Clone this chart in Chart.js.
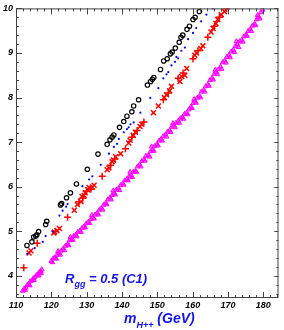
<!DOCTYPE html>
<html>
<head>
<meta charset="utf-8">
<script src="https://cdn.jsdelivr.net/npm/chart.js@4/dist/chart.umd.min.js"></script>
<style>
  html, body { margin: 0; padding: 0; background: #fff; }
  #wrap { width: 284px; height: 330px; }
</style>
</head>
<body>
<div id="wrap"><canvas id="rgg"></canvas></div>
<script>
// tick labels
const xTicks = [110, 120, 130, 140, 150, 160, 170, 180];
const yTicks = [4, 5, 6, 7, 8, 9, 10];

// black open circles
const circlePts = [
  [113.1,4.68],[114.5,4.76],[115.0,4.87],[115.6,4.89],[115.9,4.92],[116.4,4.99],
  [118.4,5.15],[118.7,5.22],[122.6,5.59],[122.9,5.62],[124.3,5.75],[125.4,5.86],
  [127.1,6.06],[130.2,6.39],[133.2,6.73],[135.8,6.95],[136.6,7.05],[137.2,7.11],
  [137.7,7.16],[139.3,7.33],[140.5,7.46],[141.4,7.58],[142.8,7.68],[143.3,7.81],
  [144.7,7.95],[147.2,8.28],[148.1,8.36],[148.6,8.41],[149.0,8.45],[150.9,8.63],
  [151.8,8.82],[152.8,8.87],[153.7,8.98],[154.2,9.02],[155.1,9.11],[156.2,9.24],
  [156.7,9.35],[157.2,9.40],[158.4,9.53],[159.1,9.60],[160.1,9.75],[160.7,9.80],
  [161.9,9.93]
];

// blue dots
const dotPts = [
  [113.2,4.49],[115.3,4.62],[117.6,4.76],[118.4,4.89],[120.5,4.99],[122.3,5.35],
  [123.2,5.46],[124.2,5.55],[124.6,5.61],[128.8,6.01],[130.7,6.16],[131.6,6.23],
  [134.0,6.49],[136.3,6.74],[137.7,6.89],[138.6,6.96],[139.1,7.07],[140.5,7.22],
  [141.4,7.29],[141.9,7.33],[142.4,7.40],[143.3,7.44],[145.2,7.66],[148.0,7.99],
  [150.3,8.21],[151.7,8.43],[152.6,8.52],[153.1,8.57],[154.0,8.72],[155.0,8.80],
  [155.4,8.91],[155.9,8.88],[156.8,9.05],[157.8,9.12],[158.7,9.31],[160.1,9.45],
  [161.0,9.56],[162.4,9.71],[163.9,9.86],[165.7,10.0]
];

// red crosses
const crossPts = [
  [112.2,4.18],[113.7,4.51],[114.2,4.56],[116.0,4.73],[120.7,4.96],[120.9,4.98],
  [121.2,5.00],[121.6,5.01],[122.3,5.06],[124.6,5.31],[126.5,5.47],[127.4,5.60],
  [127.8,5.66],[128.4,5.66],[128.7,5.78],[128.9,5.74],[129.3,5.80],[129.6,5.86],
  [130.0,5.90],[130.3,5.93],[130.7,5.98],[131.2,5.94],[131.6,5.99],[132.1,6.03],
  [134.4,6.23],[135.8,6.38],[136.3,6.42],[136.8,6.48],[137.2,6.56],[137.6,6.60],
  [138.0,6.62],[138.2,6.67],[139.6,6.74],[141.0,6.85],[141.9,6.98],[142.3,7.04],
  [142.8,7.11],[143.2,7.15],[143.8,7.22],[144.3,7.26],[145.1,7.35],[145.6,7.40],
  [146.2,7.45],[148.9,7.66],[150.3,7.81],[151.7,7.95],[152.0,8.00],[152.6,8.06],
  [153.1,8.10],[153.5,8.15],[154.0,8.25],[155.9,8.43],[156.4,8.36],[156.9,8.47],
  [157.3,8.55],[157.8,8.50],[158.3,8.65],[160.1,8.87],[160.6,8.95],[161.1,9.00],
  [161.5,9.05],[162.3,9.10],[162.9,9.16],[164.3,9.35],[165.2,9.47],[165.8,9.55],
  [166.2,9.60],[166.6,9.66],[167.1,9.75],[167.6,9.80],[168.1,9.86],[169.0,9.93],
  [169.6,9.99]
];

// magenta triangles
const triPts = [
  [111.9,3.66],[112.3,3.71],[112.8,3.73],[113.2,3.79],[113.6,3.80],[114.0,3.87],
  [114.5,3.89],[114.9,3.94],[115.3,3.96],[115.8,4.01],[116.2,4.03],[116.6,4.08],
  [117.0,4.10],[117.3,4.14],
  [120.0,4.33],[120.5,4.39],[121.1,4.41],[121.6,4.47],[122.2,4.51],[122.8,4.56],
  [123.4,4.61],[124.0,4.67],[124.6,4.71],[125.1,4.79],[125.7,4.81],[126.3,4.89],
  [126.9,4.92],[127.5,4.98],[128.1,5.01],[128.7,5.07],[129.3,5.11],[129.9,5.17],
  [130.5,5.21],[131.2,5.27],[131.8,5.31],[132.4,5.37],[133.0,5.41],[133.6,5.48],
  [134.2,5.52],[134.8,5.59],[135.4,5.63],[136.0,5.71],[136.6,5.75],[137.2,5.81],
  [137.8,5.85],[138.4,5.93],[139.0,5.96],[139.6,6.03],[140.2,6.07],[140.8,6.14],
  [141.4,6.17],[142.0,6.23],[142.6,6.25],[143.2,6.33],[143.8,6.35],[144.4,6.45],
  [145.0,6.49],[145.6,6.57],[146.2,6.61],[146.8,6.69],[147.5,6.71],[148.1,6.79],
  [148.7,6.83],[149.3,6.91],[149.9,6.95],[150.5,7.03],[151.1,7.07],[151.7,7.13],
  [152.3,7.17],[152.9,7.23],[153.5,7.26],[154.1,7.34],[154.7,7.37],[155.3,7.43],
  [155.9,7.47],[156.5,7.53],[157.1,7.56],[157.7,7.63],[158.3,7.65],[158.9,7.73],
  [159.5,7.79],[160.1,7.87],[160.7,7.91],[161.3,7.99],[161.9,8.03],[162.5,8.13],
  [163.1,8.17],[163.7,8.25],[164.3,8.29],[164.9,8.39],[165.5,8.44],[166.1,8.53],
  [166.7,8.57],[167.3,8.63],[167.9,8.69],[168.5,8.79],[169.1,8.83],[169.7,8.91],
  [170.3,8.95],[170.9,9.03],[171.5,9.07],[172.1,9.15],[172.7,9.19],[173.3,9.26],
  [173.9,9.29],[174.5,9.37],[175.1,9.41],[175.7,9.49],[176.3,9.53],[176.9,9.61],
  [177.5,9.65],[178.1,9.75],[178.7,9.81],[179.3,9.91],[179.8,9.97],
  [112.6,3.68],[113.9,3.78],[115.1,3.90],[116.4,4.00],[117.1,4.06],
  [120.3,4.30],[121.4,4.38],[122.5,4.47],[123.7,4.57],[124.9,4.68],[126.1,4.80],
  [127.2,4.88],[128.4,4.98],[129.6,5.08],[130.8,5.18],[132.1,5.28],[133.3,5.37],
  [134.5,5.48],[135.7,5.60],[136.9,5.71],[138.1,5.82],[139.3,5.92],[140.5,6.04],
  [141.7,6.14],[142.9,6.21],[144.1,6.33],[145.3,6.45],[146.5,6.58],[147.8,6.67],
  [149.0,6.80],[150.2,6.92],[151.4,7.03],[152.6,7.12],[153.8,7.22],[155.0,7.33],
  [156.2,7.43],[157.4,7.52],[158.6,7.62],[159.8,7.76],[161.0,7.88],[162.2,8.00],
  [163.4,8.13],[164.6,8.26],[165.8,8.40],[167.0,8.52],[168.2,8.64],[169.4,8.78],
  [170.6,8.90],[171.8,9.02],[173.0,9.13],[174.2,9.25],[175.4,9.38],[176.6,9.49],
  [177.8,9.62],[179.0,9.77],
  [121.9,4.55],[125.4,4.87],[131.5,5.36],[137.5,5.91],[142.3,6.33],[148.4,6.90],
  [154.4,7.42],[160.4,7.96],[166.4,8.62],[172.4,9.26],[178.4,9.85]
];

const toXY = arr => arr.map(p => ({ x: p[0], y: p[1] }));

const tickFont = { family: '"Liberation Sans", Arial, sans-serif', size: 9, style: 'italic', weight: 'bold' };
const blue = '#1414e6';

// ticks inside the frame, ROOT style, plus the text labels
const frameTicks = {
  id: 'frameTicks',
  afterDatasetsDraw(chart) {
    const { ctx, chartArea: a, scales: { x, y } } = chart;
    ctx.save();
    ctx.strokeStyle = '#444';
    ctx.lineWidth = 1;
    ctx.strokeRect(a.left + 0.5, a.top + 0.5, a.right - a.left - 1, a.bottom - a.top - 1);
    ctx.beginPath();
    for (let v = 110; v <= 184; v += 2) {
      const px = Math.round(x.getPixelForValue(v)) + 0.5;
      const len = v % 10 === 0 ? 6 : 3;
      ctx.moveTo(px, a.bottom); ctx.lineTo(px, a.bottom - len);
      ctx.moveTo(px, a.top); ctx.lineTo(px, a.top + len);
    }
    for (let v = 36; v <= 100; v += 2) {
      const py = Math.round(y.getPixelForValue(v / 10)) + 0.5;
      const len = v % 10 === 0 ? 6 : 3;
      ctx.moveTo(a.left, py); ctx.lineTo(a.left + len, py);
      ctx.moveTo(a.right, py); ctx.lineTo(a.right - len * 0.7, py);
    }
    ctx.stroke();

    // R_gg label
    ctx.fillStyle = blue;
    ctx.textBaseline = 'alphabetic';
    const big = 'italic bold 13px "Liberation Sans", Arial, sans-serif';
    const small = 'italic bold 9px "Liberation Sans", Arial, sans-serif';
    let cx = 65;
    ctx.font = big; ctx.fillText('R', cx, 283); cx += ctx.measureText('R').width;
    ctx.font = small; ctx.fillText('gg', cx, 287); cx += ctx.measureText('gg').width;
    ctx.font = big; ctx.fillText(' = 0.5 (C1)', cx, 283);

    // x title
    const bigX = 'italic bold 14px "Liberation Sans", Arial, sans-serif';
    cx = 124;
    ctx.font = bigX; ctx.fillText('m', cx, 323); cx += ctx.measureText('m').width;
    ctx.font = small; ctx.fillText('H++', cx, 328); cx += ctx.measureText('H++').width;
    ctx.font = bigX; ctx.fillText(' (GeV)', cx, 323);
    ctx.restore();
  }
};

const myChart = new Chart(document.getElementById('rgg'), {
  type: 'scatter',
  data: {
    datasets: [{
      label: 'circles',
      data: toXY(circlePts),
      pointStyle: 'circle',
      pointRadius: 2.2,
      borderWidth: 1.2,
      borderColor: '#000',
      backgroundColor: 'rgba(0,0,0,0)'
    }, {
      label: 'dots',
      data: toXY(dotPts),
      pointStyle: 'circle',
      pointRadius: 1.1,
      borderWidth: 0,
      borderColor: '#0000ff',
      backgroundColor: '#0000ff'
    }, {
      label: 'crosses',
      data: toXY(crossPts),
      pointStyle: crossPts.map((p, i) => i % 3 === 0 ? 'cross' : 'crossRot'),
      pointRadius: 3.5,
      borderWidth: 1.5,
      borderColor: '#ff0000',
      backgroundColor: '#ff0000'
    }, {
      label: 'triangles',
      data: toXY(triPts),
      pointStyle: 'triangle',
      pointRadius: 2.7,
      borderWidth: 1,
      borderColor: '#ff00ff',
      backgroundColor: 'rgba(255,0,255,0.55)'
    }]
  },
  options: {
    responsive: true,
    maintainAspectRatio: false,
    animation: false,
    layout: { padding: { top: 3, right: 3, left: 0, bottom: 0 } },
    plugins: { legend: { display: false }, tooltip: { enabled: false } },
    scales: {
      x: {
        type: 'linear',
        min: 110,
        max: 184.3,
        afterBuildTicks: s => { s.ticks = xTicks.map(v => ({ value: v })); },
        afterFit: s => { s.height = 32; },
        grid: { display: false, drawTicks: false },
        border: { display: false },
        ticks: { font: tickFont, color: '#000', padding: 2, maxRotation: 0, autoSkip: false }
      },
      y: {
        type: 'linear',
        min: 3.5,
        max: 10,
        afterBuildTicks: s => { s.ticks = yTicks.map(v => ({ value: v })); },
        afterFit: s => { s.width = 16; },
        grid: { display: false, drawTicks: false },
        border: { display: false },
        ticks: { font: tickFont, color: '#000', padding: 3, autoSkip: false }
      }
    }
  },
  plugins: [frameTicks]
});
</script>
</body>
</html>
